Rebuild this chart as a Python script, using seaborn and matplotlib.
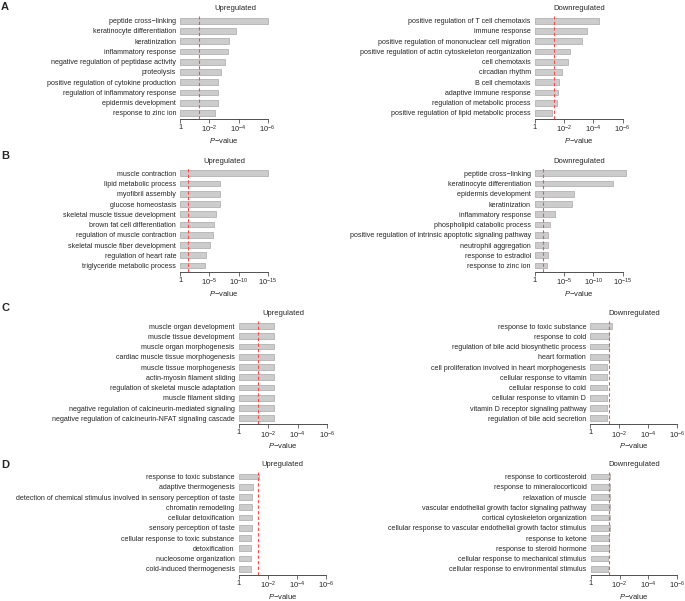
import matplotlib
matplotlib.use("Agg")
import matplotlib.pyplot as plt
import seaborn as sns
import pandas as pd
import numpy as np

# ---------------- data (-log10 P-values) ----------------
a_up_terms = ["peptide cross\u2212linking", "keratinocyte differentiation", "keratinization",
              "inflammatory response", "negative regulation of peptidase activity", "proteolysis",
              "positive regulation of cytokine production", "regulation of inflammatory response",
              "epidermis development", "response to zinc ion"]
a_up_vals = [6.0, 3.80, 3.32, 3.27, 3.05, 2.82, 2.61, 2.56, 2.56, 2.36]

a_down_terms = ["positive regulation of T cell chemotaxis", "immune response",
                "positive regulation of mononuclear cell migration",
                "positive regulation of actin cytoskeleton reorganization", "cell chemotaxis",
                "circadian rhythm", "B cell chemotaxis", "adaptive immune response",
                "regulation of metabolic process", "positive regulation of lipid metabolic process"]
a_down_vals = [4.36, 3.54, 3.24, 2.37, 2.24, 1.85, 1.64, 1.57, 1.51, 1.19]

b_up_terms = ["muscle contraction", "lipid metabolic process", "myofibril assembly",
              "glucose homeostasis", "skeletal muscle tissue development",
              "brown fat cell differentiation", "regulation of muscle contraction",
              "skeletal muscle fiber development", "regulation of heart rate",
              "triglyceride metabolic process"]
b_up_vals = [15.0, 6.87, 6.87, 6.76, 6.07, 5.73, 5.55, 5.15, 4.35, 4.18]

b_down_terms = ["peptide cross\u2212linking", "keratinocyte differentiation", "epidermis development",
                "keratinization", "inflammatory response", "phospholipid catabolic process",
                "positive regulation of intrinsic apoptotic signaling pathway",
                "neutrophil aggregation", "response to estradiol", "response to zinc ion"]
b_down_vals = [15.5, 13.4, 6.73, 6.27, 3.37, 2.62, 2.22, 2.17, 2.22, 2.11]

c_up_terms = ["muscle organ development", "muscle tissue development", "muscle organ morphogenesis",
              "cardiac muscle tissue morphogenesis", "muscle tissue morphogenesis",
              "actin-myosin filament sliding", "regulation of skeletal muscle adaptation",
              "muscle filament sliding", "negative regulation of calcineurin-mediated signaling",
              "negative regulation of calcineurin-NFAT signaling cascade"]
c_up_vals = [2.36, 2.36, 2.36, 2.36, 2.36, 2.36, 2.36, 2.36, 2.36, 2.36]

c_down_terms = ["response to toxic substance", "response to cold",
                "regulation of bile acid biosynthetic process", "heart formation",
                "cell proliferation involved in heart morphogenesis", "cellular response to vitamin",
                "cellular response to cold", "cellular response to vitamin D",
                "vitamin D receptor signaling pathway", "regulation of bile acid secretion"]
c_down_vals = [1.52, 1.31, 1.31, 1.31, 1.13, 1.13, 1.13, 1.13, 1.13, 1.13]

d_up_terms = ["response to toxic substance", "adaptive thermogenesis",
              "detection of chemical stimulus involved in sensory perception of taste",
              "chromatin remodeling", "cellular detoxification", "sensory perception of taste",
              "cellular response to toxic substance", "detoxification", "nucleosome organization",
              "cold-induced thermogenesis"]
d_up_vals = [1.41, 0.98, 0.89, 0.89, 0.89, 0.89, 0.84, 0.84, 0.84, 0.84]

d_down_terms = ["response to corticosteroid", "response to mineralocorticoid", "relaxation of muscle",
                "vascular endothelial growth factor signaling pathway",
                "cortical cytoskeleton organization",
                "cellular response to vascular endothelial growth factor stimulus",
                "response to ketone", "response to steroid hormone",
                "cellular response to mechanical stimulus",
                "cellular response to environmental stimulus"]
d_down_vals = [1.36, 1.36, 1.36, 1.36, 1.34, 1.34, 1.29, 1.27, 1.20, 1.20]

ticks_6 = [0, 2, 4, 6]
ticks_6_labels = ["1", "$10^{-2}$", "$10^{-4}$", "$10^{-6}$"]
ticks_15 = [0, 5, 10, 15]
ticks_15_labels = ["1", "$10^{-5}$", "$10^{-10}$", "$10^{-15}$"]
threshold_p = 0.05

# ---------------- style ----------------
sns.set_style("white")
plt.rcParams["font.family"] = ["Liberation Sans", "DejaVu Sans"]
plt.rcParams["mathtext.fontset"] = "custom"
plt.rcParams["mathtext.rm"] = "Liberation Sans"
plt.rcParams["mathtext.it"] = "Liberation Sans:italic"
plt.rcParams["mathtext.bf"] = "Liberation Sans:bold"

W, H = 685, 601
fig = plt.figure(figsize=(W / 100, H / 100), dpi=100)
AX_H = 103.5

def make_axes(x0, x1, top):
    return fig.add_axes([x0 / W, 1 - (top + AX_H) / H, (x1 - x0) / W, AX_H / H])

panels = [
    (a_up_terms, a_up_vals, "Upregulated", 180.3, 267.7, 15.6, ticks_6, ticks_6_labels, 0.634),
    (a_down_terms, a_down_vals, "Downregulated", 535.0, 622.7, 15.6, ticks_6, ticks_6_labels, 0.5),
    (b_up_terms, b_up_vals, "Upregulated", 180.3, 267.7, 168.2, ticks_15, ticks_15_labels, 0.5),
    (b_down_terms, b_down_vals, "Downregulated", 535.0, 622.7, 168.2, ticks_15, ticks_15_labels, 0.5),
    (c_up_terms, c_up_vals, "Upregulated", 239.0, 327.0, 320.9, ticks_6, ticks_6_labels, 0.5),
    (c_down_terms, c_down_vals, "Downregulated", 590.3, 677.3, 320.9, ticks_6, ticks_6_labels, 0.5),
    (d_up_terms, d_up_vals, "Upregulated", 238.7, 326.3, 471.5, ticks_6, ticks_6_labels, 0.5),
    (d_down_terms, d_down_vals, "Downregulated", 590.7, 677.3, 471.5, ticks_6, ticks_6_labels, 0.5),
]

for terms, vals, title, x0, x1, top, ticks, tlabels, tx in panels:
    ax = make_axes(x0, x1, top)
    df = pd.DataFrame({"term": terms, "val": vals})
    sns.barplot(data=df, x="val", y="term", orient="h", color="#cccccc", saturation=1,
                width=0.56, edgecolor="#a8a8a8", linewidth=0.5, ax=ax)
    for p in ax.patches:
        p.set_clip_on(False)
    ax.axvline(-np.log10(threshold_p), color="#ff4d4d", ls=(0, (3, 2)), lw=0.8, zorder=4)
    ax.set_xlim(ticks[0], ticks[-1])
    ax.set_ylim(9.6, -0.5)
    ax.set_xticks(ticks)
    ax.set_xticklabels(tlabels)
    for s in ["left", "top", "right"]:
        ax.spines[s].set_visible(False)
    ax.spines["bottom"].set_linewidth(0.6)
    ax.spines["bottom"].set_color("#333333")
    ax.tick_params(axis="x", length=3, width=0.5, color="#333333", labelsize=5.5, pad=0.5,
                   direction="out", bottom=True)
    ax.tick_params(axis="y", length=0, labelsize=5.1, pad=3)
    ax.set_ylabel("")
    ax.set_xlabel("$P$\u2212value", fontsize=5.5, labelpad=0.5)
    ax.set_title(title, fontsize=5.5, pad=4, x=tx)

for letter, ytop in [("A", 2), ("B", 151), ("C", 303), ("D", 460)]:
    fig.text(1 / W, 1 - ytop / H, letter, fontsize=8, fontweight="bold", va="top", ha="left")

fig.savefig("out.png", dpi=100)
